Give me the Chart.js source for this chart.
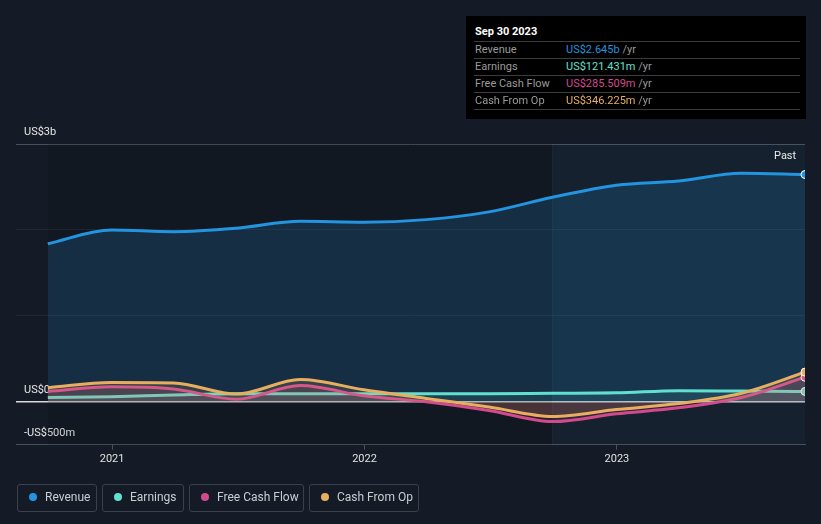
<html>
<head>
<script src="https://cdn.jsdelivr.net/npm/chart.js"></script>
<style>
body { margin:0; background:#151b26; font-family: Roboto, "Open Sans", sans-serif; width:821px; height:524px; overflow:hidden; position:relative }
#wrap { position:absolute; left:0; top:0; width:821px; height:524px }
#tip { position:absolute; left:466px; top:16px; width:340px; height:103px; background:#000; color:#fff; font-size:11px }
#tip .t { position:absolute; left:9px; top:9px; font-weight:bold; font-size:11px }
#tip .row { position:absolute; left:8px; width:326px; height:17px; border-top:1px solid #3c3c3c; line-height:16px }
#tip .row span.l { position:absolute; left:1px; color:#9a9a9a }
#tip .row span.v { position:absolute; left:92px }
#tip .row span.u { color:#9a9a9a }
#past { position:absolute; left:774px; top:149px; color:#e8e8e8; font-size:11px }
.leg { position:absolute; top:484px; height:28px; border:1px solid #3b414b; border-radius:3px; color:#c9ccd1; font-size:12px; line-height:24px; box-sizing:border-box }
.leg i { position:absolute; left:11px; top:8px; width:8px; height:8px; border-radius:50% }
.leg span { position:absolute; left:27px }
</style>
</head>
<body>
<div id="wrap"><canvas id="myChart" width="821" height="524"></canvas></div>
<div id="past">Past</div>
<div id="tip">
  <div class="t">Sep 30 2023</div>
</div>

<script>
// quarter ends Sep 2020 .. Sep 2023, values in US$ billions
dates = ["2020-09-30", "2020-12-31", "2021-03-31", "2021-06-30", "2021-09-30", "2021-12-31", "2022-03-31",
         "2022-06-30", "2022-09-30", "2022-12-31", "2023-03-31", "2023-06-30", "2023-09-30"]
revenue = [1.84, 2.00, 1.98, 2.02, 2.10, 2.09, 2.12, 2.21, 2.38, 2.52, 2.57, 2.66, 2.645]
earnings = [0.05, 0.06, 0.08, 0.095, 0.095, 0.095, 0.095, 0.095, 0.1, 0.105, 0.13, 0.125, 0.121]
fcf = [0.12, 0.175, 0.15, 0.03, 0.19, 0.07, 0.0, -0.1, -0.23, -0.14, -0.07, 0.05, 0.2855]
cfo = [0.165, 0.225, 0.22, 0.09, 0.26, 0.14, 0.04, -0.06, -0.17, -0.09, -0.02, 0.1, 0.346]
years = [2021, 2022, 2023]
yTicks = [-0.5, 0, 1, 2, 3]
yLabels = {"-0.5": "-US$500m", "0": "US$0", "3": "US$3b"}

names = ["Revenue", "Earnings", "Free Cash Flow", "Cash From Op"]
colors = ["#2394df", "#62e0cf", "#d24a8e", "#e8ae60"]
fills = ["rgba(35,148,223,0.18)", "rgba(98,224,207,0.10)", "rgba(210,74,142,0.14)", "rgba(232,174,96,0.14)"]
tipValues = ["US$2.645b", "US$121.431m", "US$285.509m", "US$346.225m"]
series = [revenue, earnings, fcf, cfo]

DAY = 86400000
t = dates.map(d => Date.parse(d))
tStart = t[0], tEnd = t[t.length - 1]
// plot area starts a little before the first quarter
tMin = tStart - 46 * DAY

// tooltip rows + legend
tip = document.querySelector("#tip")
for (i = 0; i < 4; i++) {
  r = document.createElement("div")
  r.className = "row"
  r.style.top = (25 + i*17) + "px"
  r.innerHTML = '<span class="l">' + names[i] + '</span><span class="v"><span style="color:' + colors[i] + '">' + tipValues[i] + '</span> <span class="u">/yr</span></span>'
  tip.appendChild(r)
}
last = document.createElement("div")
last.className = "row"
last.style.top = (25 + 4*17) + "px"
tip.appendChild(last)

legX = [17, 102, 189, 309]
legW = [80, 82, 115, 110]
for (i = 0; i < 4; i++) {
  d = document.createElement("div")
  d.className = "leg"
  d.style.left = legX[i] + "px"
  d.style.width = legW[i] + "px"
  d.innerHTML = '<i style="background:' + colors[i] + '"></i><span>' + names[i] + '</span>'
  document.body.appendChild(d)
}

shade = {
  id: "shade",
  beforeDatasetsDraw(chart) {
    const c = chart.ctx, a = chart.chartArea, x = chart.scales.x
    const x0 = x.getPixelForValue(tStart), xs = x.getPixelForValue(t[8])
    c.save()
    c.fillStyle = "rgba(0,0,0,0.10)"
    c.fillRect(x0, a.top, xs - x0, a.bottom - a.top)
    c.fillStyle = "rgba(40,110,170,0.07)"
    c.fillRect(xs, a.top, a.right - xs, a.bottom - a.top)
    c.strokeStyle = "rgba(255,255,255,0.05)"
    c.beginPath(); c.moveTo(xs, a.top); c.lineTo(xs, a.bottom); c.stroke()
    c.restore()
  }
}

datasets = []
for (i = 0; i < 4; i++) {
  const n = series[i].length
  datasets.push({
    label: names[i],
    data: series[i].map((v, k) => ({x: t[k], y: v})),
    borderColor: colors[i],
    backgroundColor: fills[i],
    fill: "origin",
    borderWidth: 3,
    tension: 0.4,
    cubicInterpolationMode: "monotone",
    pointRadius: ctx => ctx.dataIndex == n - 1 ? 4 : 0,
    pointBackgroundColor: colors[i],
    pointBorderColor: "#ffffff",
    pointBorderWidth: 1,
    order: i == 0 ? 4 : 3 - i
  })
}

Chart.defaults.font.family = "Roboto"
new Chart(document.getElementById("myChart"), {
  type: "line",
  data: { datasets: datasets },
  plugins: [shade],
  options: {
    responsive: false,
    animation: false,
    layout: { padding: { top: 144, right: 16, bottom: 55, left: 0 } },
    plugins: { legend: { display: false }, tooltip: { enabled: false } },
    scales: {
      x: {
        type: "linear",
        min: tMin, max: tEnd,
        afterBuildTicks: s => { s.ticks = years.map(v => ({value: Date.UTC(v, 0, 1)})) },
        grid: { drawOnChartArea: false, tickLength: 5, color: "#4a505a" },
        border: { color: "#4a505a" },
        ticks: { color: "#e0e0e0", font: { size: 11 }, padding: 3, callback: v => String(new Date(v).getUTCFullYear()) }
      },
      y: {
        min: -0.5, max: 3,
        afterBuildTicks: s => { s.ticks = yTicks.map(v => ({value: v})) },
        grid: {
          drawTicks: false,
          color: ctx => ctx.tick.value == 0 ? "#d8d8d8" : ctx.tick.value == 3 ? "#4a505a" : ctx.tick.value == -0.5 ? "#4a505a" : "rgba(255,255,255,0.06)",
          lineWidth: ctx => ctx.tick.value == 0 ? 1.5 : 1
        },
        border: { display: false },
        ticks: { mirror: true, padding: 8, labelOffset: -12, color: "#e6e6e6", font: { size: 11 }, callback: v => yLabels[String(v)] || "" }
      }
    }
  }
})
</script>
</body>
</html>
